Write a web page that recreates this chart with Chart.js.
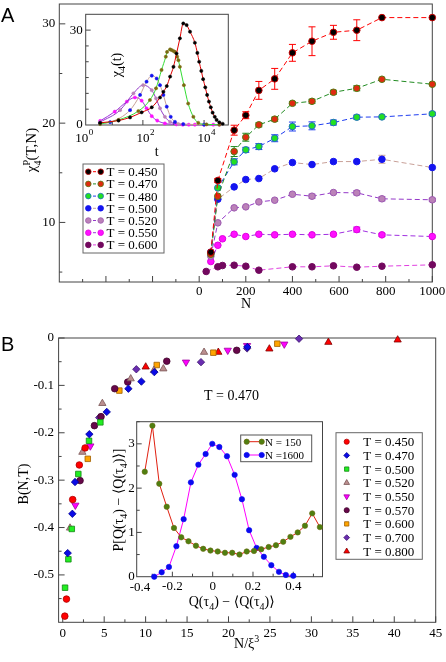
<!DOCTYPE html>
<html>
<head>
<meta charset="utf-8">
<script src="https://cdn.jsdelivr.net/npm/chart.js@4.4.0/dist/chart.umd.min.js"></script>
<style>
  body { margin: 0; background: #fff; }
  #wrap { position: relative; width: 446px; height: 662px; }
  #wrap canvas { position: absolute; left: 0; top: 0; }
</style>
</head>
<body>
<div id="wrap">
  <canvas id="mainA" width="446" height="662"></canvas>
  <canvas id="insetA" width="446" height="662"></canvas>
  <canvas id="mainB" width="446" height="662"></canvas>
  <canvas id="insetB" width="446" height="662"></canvas>
</div>
<script>
const SERIF = "'Liberation Serif', 'DejaVu Serif', serif";
const SANS = "'Liberation Sans', 'DejaVu Sans', sans-serif";

// ---- panel A : chi4^P(T,N) vs N ----
const A_TEMPS = ["0.450", "0.470", "0.480", "0.500", "0.520", "0.550", "0.600"];
const A_N = [30, 50, 80, 100, 150, 200, 256, 324, 400, 484, 576, 676, 784, 1000];
const A_T450 = [null, 7.0, 14.22, null, 19.29, 20.8, 23.3, 24.46, 27.08, 28.25, 29.15, 29.36, 30.63, 30.63];
const A_T470 = [null, 6.8, 12.64, null, 17.14, 18.58, 19.83, 20.4, 22.0, 22.2, 23.11, 23.51, 24.42, 23.92];
const A_T480 = [null, 6.9, 13.48, null, 16.1, 17.31, 17.64, 18.48, 19.66, 19.73, 20.06, 20.6, 20.63, 20.94];
const A_T500 = [null, 7.0, 12.34, null, 13.58, 14.32, 14.42, 15.4, 16.03, 15.83, 16.13, 16.13, 16.36, 15.53];
const A_T520 = [null, 6.6, 9.96, null, 11.47, 11.57, 12.07, 12.24, 12.84, 12.64, 13.01, 12.98, 12.38, 12.28];
const A_T550 = [null, 6.06, 7.7, 8.35, 8.81, 8.58, 8.81, 8.75, 8.81, 8.75, 8.81, 9.28, 8.75, 8.58];
const A_T600 = [5.06, null, 5.53, 5.66, 5.69, 5.59, 5.19, null, 5.53, 5.53, 5.63, 5.49, 5.59, 5.73];
const A_E450 = [0, 0, 0.2, 0, 0.5, 0.35, 0.9, 1.05, 0.85, 1.45, 0.7, 1.05, 0, 0];
const A_E470 = [0, 0, 0, 0, 0.5, 0.4, 0.2, 0.2, 0.15, 0.2, 0.2, 0.25, 0, 0];
const A_E480 = [0, 0, 0, 0, 0.3, 0.25, 0.3, 0.35, 0.45, 0.4, 0.25, 0.2, 0, 0.15];
const A_E500 = [0, 0, 0, 0, 0, 0, 0, 0, 0, 0, 0, 0, 0.4, 0];
const A_E520 = [0, 0, 0, 0, 0, 0, 0, 0, 0, 0.2, 0, 0.2, 0.2, 0.15];
const A_E550 = [0, 0, 0, 0, 0, 0, 0, 0, 0, 0, 0, 0.25, 0.15, 0];
const A_E600 = [0, 0, 0, 0, 0, 0, 0, 0, 0, 0, 0, 0, 0, 0];
const A_SERIES = [A_T450, A_T470, A_T480, A_T500, A_T520, A_T550, A_T600];
const A_ERRS = [A_E450, A_E470, A_E480, A_E500, A_E520, A_E550, A_E600];
const A_FILL = ["#000000", "#e02a10", "#22e022", "#1414f0", "#bb82b8", "#ff10ff", "#72085e"];
const A_EDGE = ["#c80000", "#557a10", "#1f6fc0", "#1414f0", "#9c58b0", "#e000e0", "#72085e"];
const A_LINE = ["#ff0000", "#228b22", "#1e3cf0", "#c8a098", "#9438c8", "#a030e0", "#e040e0"];

// inset A : chi4(t) vs t
const IA_T450_t = [4, 16, 38, 91, 195, 363, 468, 603, 776, 1000, 1260, 1620, 2090, 2690, 3470, 5010, 6030, 6920, 8130, 9330, 10960, 12590, 14450, 16600, 19050, 22390, 25700, 31600, 40700];
const IA_T450_c = [0.7, 1.4, 2.4, 4.0, 5.6, 8.7, 10.5, 12.3, 15.3, 18.4, 22.6, 27.4, 32.1, 31.6, 29.5, 26.0, 22.8, 20.0, 17.1, 14.5, 11.9, 9.5, 7.4, 5.6, 3.9, 2.6, 1.6, 0.85, 0.4];
const IA_T470_t = [4, 16, 71, 170, 269, 407, 562, 617, 776, 871, 1000, 1120, 1320, 1450, 1620, 2190, 3020, 4470, 6460, 12000, 31600];
const IA_T470_c = [0.3, 1.6, 4.4, 7.9, 11.6, 17.4, 21.6, 23.1, 23.9, 23.7, 23.4, 23.1, 21.6, 20.5, 18.4, 12.6, 6.8, 2.6, 0.7, 0.2, 0.1];
const IA_T500_t = [4, 8.5, 38, 81, 132, 195, 282, 363, 468, 603, 813, 1120, 2090, 10000];
const IA_T500_c = [0.5, 0.9, 4.7, 9.5, 13.7, 15.6, 14.7, 12.6, 9.5, 5.8, 2.6, 1.0, 0.3, 0.1];
const IA_T520_t = [4, 18, 49, 102, 195, 269, 363, 525, 776, 1450];
const IA_T520_c = [0.9, 4.7, 10, 12.6, 11, 8.4, 5.3, 2.6, 1.0, 0.3];
const IA_T550_t = [4, 12, 30, 55, 91, 132, 195, 295, 525, 1260, 2000, 3160, 5000, 10000, 20000, 31600];
const IA_T550_c = [1.3, 4.2, 7.4, 8.7, 7.7, 5.3, 2.8, 1.4, 0.5, 0.2, 0.1, 0.1, 0.1, 0.1, 0.1, 0.1];
const IA_T = [IA_T450_t, IA_T470_t, IA_T500_t, IA_T520_t, IA_T550_t];
const IA_C = [IA_T450_c, IA_T470_c, IA_T500_c, IA_T520_c, IA_T550_c];
const IA_FILL = ["#000000", "#7a6a10", "#1414f0", "#bb82b8", "#ff10ff"];
const IA_LINE = ["#e00000", "#33dd33", "#c8a098", "#9438c8", "#a030e0"];

// ---- panel B : B(N,T) vs N/xi^3 ----
const B_TEMPS = ["0.450", "0.470", "0.500", "0.520", "0.550", "0.570", "0.600", "0.700", "0.800"];
const B_X450 = [0.25, 0.45, 1.2, 2.0, 2.7];
const B_Y450 = [-0.587, -0.551, -0.341, -0.268, -0.232];
const B_X470 = [0.6, 1.16, 1.48, 3.21, 5.31, 7.92, 9.49, 11.05, 22.27];
const B_Y470 = [-0.454, -0.371, -0.304, -0.203, -0.156, -0.107, -0.092, -0.072, -0.019];
const B_X500 = [0.28, 0.68, 1.09, 1.88, 3.17, 4.54];
const B_Y500 = [-0.527, -0.467, -0.403, -0.287, -0.217, -0.178];
const B_X520 = [0.88, 2.37, 4.78, 8.2, 11.01, 12.14, 17.05];
const B_Y520 = [-0.401, -0.241, -0.138, -0.086, -0.068, -0.065, -0.030];
const B_X550 = [1.52, 3.33, 14.87, 19.91, 22.24, 26.73];
const B_Y550 = [-0.353, -0.228, -0.051, -0.026, -0.016, -0.013];
const B_X570 = [2.09, 3.82, 4.62, 6.27, 7.84, 12.55, 20.99];
const B_Y570 = [-0.301, -0.185, -0.166, -0.107, -0.093, -0.049, -0.026];
const B_X600 = [3.02, 6.83, 11.34, 18.17, 25.89];
const B_Y600 = [-0.255, -0.111, -0.057, -0.031, -0.012];
const B_X700 = [4.4, 8.88, 16.68, 22.24, 28.51];
const B_Y700 = [-0.168, -0.066, -0.051, -0.022, -0.0015];
const B_X800 = [10.01, 18.77, 24.93, 32.05, 40.41];
const B_Y800 = [-0.061, -0.030, -0.023, -0.009, -0.004];
const B_XS = [B_X450, B_X470, B_X500, B_X520, B_X550, B_X570, B_X600, B_X700, B_X800];
const B_YS = [B_Y450, B_Y470, B_Y500, B_Y520, B_Y550, B_Y570, B_Y600, B_Y700, B_Y800];
const B_FILL = ["#ff0000", "#0a0ae6", "#22ee22", "#bc8f8f", "#ff00ff", "#67074a", "#ffa500", "#6a2db0", "#ff0000"];
const B_EDGE = ["#b00000", "#000090", "#118811", "#7a5555", "#a000a0", "#40042c", "#a06000", "#3e1470", "#800000"];
const B_SHAPE = ["circle", "rectRot", "rect", "triangle", "triangle", "circle", "rect", "rectRot", "triangle"];
const B_ROT = [0, 0, 0, 0, 180, 0, 0, 0, 0];
const B_RAD = [3.3, 3.7, 3.9, 4.2, 4.2, 3.3, 3.9, 3.7, 4.2];

// inset B : P[Q - <Q>]
const IB_N150_x = [-0.337, -0.299, -0.265, -0.228, -0.192, -0.156, -0.120, -0.083, -0.047, -0.011, 0.025, 0.061, 0.097, 0.133, 0.169, 0.205, 0.241, 0.278, 0.314, 0.350, 0.386, 0.422, 0.458, 0.494, 0.532];
const IB_N150_y = [2.37, 3.41, 2.10, 1.58, 1.10, 0.89, 0.80, 0.70, 0.63, 0.59, 0.57, 0.54, 0.54, 0.50, 0.57, 0.58, 0.62, 0.67, 0.71, 0.79, 0.90, 1.00, 1.15, 1.43, 1.12];
const IB_N1600_x = [-0.290, -0.253, -0.217, -0.180, -0.144, -0.108, -0.071, -0.035, -0.002, 0.033, 0.071, 0.109, 0.145, 0.181, 0.218, 0.254, 0.291, 0.329, 0.363, 0.400];
const IB_N1600_y = [0.0, 0.10, 0.22, 0.69, 1.30, 2.13, 2.53, 2.77, 3.00, 2.93, 2.72, 2.30, 1.75, 1.05, 0.65, 0.45, 0.26, 0.11, 0.04, 0.02];

// ---------- helpers ----------
function rich(ctx, parts, x, y, size, align) {
  // parts: [text, mode]  mode 0 normal, 1 subscript, 2 superscript, 3 superscript without advance
  const widths = parts.map(([t, m]) => {
    ctx.font = (m ? Math.round(size * 0.68) : size) + "px " + SERIF;
    return ctx.measureText(t).width;
  });
  let total = 0;
  parts.forEach(([t, m], i) => { if (m !== 3) total += widths[i]; });
  let cx = align === "center" ? x - total / 2 : x;
  ctx.textAlign = "left";
  ctx.textBaseline = "alphabetic";
  parts.forEach(([t, m], i) => {
    ctx.font = (m ? Math.round(size * 0.68) : size) + "px " + SERIF;
    const dy = m === 1 ? size * 0.3 : (m >= 2 ? -size * 0.42 : 0);
    ctx.fillText(t, cx, y + dy);
    if (m !== 3) cx += widths[i];
  });
}

function richV(ctx, parts, x, y, size) {
  ctx.save();
  ctx.translate(x, y);
  ctx.rotate(-Math.PI / 2);
  rich(ctx, parts, 0, 0, size, "center");
  ctx.restore();
}

function marker(ctx, shape, x, y, r, fill, edge, rot) {
  ctx.save();
  ctx.fillStyle = fill;
  ctx.strokeStyle = edge;
  ctx.lineWidth = 0.8;
  ctx.beginPath();
  if (shape === "circle") {
    ctx.arc(x, y, r, 0, Math.PI * 2);
  } else if (shape === "rect") {
    const s = r * Math.SQRT1_2;
    ctx.rect(x - s, y - s, 2 * s, 2 * s);
  } else if (shape === "rectRot") {
    ctx.moveTo(x - r, y); ctx.lineTo(x, y - r); ctx.lineTo(x + r, y); ctx.lineTo(x, y + r); ctx.closePath();
  } else {
    const h = rot ? -1 : 1;
    const w = r * 0.866;
    ctx.moveTo(x, y - h * r); ctx.lineTo(x + w, y + h * r * 0.5); ctx.lineTo(x - w, y + h * r * 0.5); ctx.closePath();
  }
  ctx.fill();
  ctx.stroke();
  ctx.restore();
}

function axis(type, min, max, tickVals, size, isX, pad, fmt) {
  return {
    type: type, min: min, max: max,
    afterBuildTicks: s => { s.ticks = tickVals.map(v => ({ value: v })); },
    afterFit: s => {
      if (isX) s.height = size; else s.width = size;
      s.paddingLeft = 0; s.paddingRight = 0; s.paddingTop = 0; s.paddingBottom = 0;
    },
    ticks: {
      display: fmt !== null,
      callback: fmt || (v => String(v)),
      font: { family: SERIF, size: 13 },
      color: "#000", padding: pad, maxRotation: 0, minRotation: 0, autoSkip: false
    },
    grid: { display: false, drawTicks: false },
    border: { display: false }
  };
}

// box + inward tick marks
const frame = {
  id: "frame",
  beforeDraw(chart, args, o) {
    if (!o.fill) return;
    const a = chart.chartArea, ctx = chart.ctx;
    ctx.save();
    ctx.fillStyle = "#fff";
    ctx.fillRect(a.left, a.top, a.right - a.left, a.bottom - a.top);
    ctx.restore();
  },
  beforeDatasetsDraw(chart, args, o) {
    const a = chart.chartArea, ctx = chart.ctx;
    const xs = chart.scales.x, ys = chart.scales.y;
    ctx.save();
    ctx.strokeStyle = "#444";
    ctx.lineWidth = 1;
    ctx.strokeRect(a.left, a.top, a.right - a.left, a.bottom - a.top);
    ctx.beginPath();
    const tick = (vals, len, horiz) => vals.forEach(v => {
      if (horiz) {
        const p = xs.getPixelForValue(v);
        if (p < a.left - 0.5 || p > a.right + 0.5) return;
        ctx.moveTo(p, a.bottom); ctx.lineTo(p, a.bottom - len);
      } else {
        const p = ys.getPixelForValue(v);
        if (p < a.top - 0.5 || p > a.bottom + 0.5) return;
        ctx.moveTo(a.left, p); ctx.lineTo(a.left + len, p);
      }
    });
    tick(o.xMajor, o.major, true);
    tick(o.xMinor, o.minor, true);
    tick(o.yMajor, o.major, false);
    tick(o.yMinor, o.minor, false);
    ctx.stroke();
    ctx.restore();
  }
};

const errorBars = {
  id: "errorBars",
  beforeDatasetsDraw(chart) {
    const ctx = chart.ctx, xs = chart.scales.x, ys = chart.scales.y;
    chart.data.datasets.forEach(ds => {
      ctx.save();
      ctx.strokeStyle = ds.borderColor;
      ctx.lineWidth = 1;
      ctx.beginPath();
      ds.data.forEach(p => {
        if (!p.e) return;
        const px = xs.getPixelForValue(p.x);
        const y1 = ys.getPixelForValue(p.y + p.e), y2 = ys.getPixelForValue(p.y - p.e);
        ctx.moveTo(px, y1); ctx.lineTo(px, y2);
        ctx.moveTo(px - 3.5, y1); ctx.lineTo(px + 3.5, y1);
        ctx.moveTo(px - 3.5, y2); ctx.lineTo(px + 3.5, y2);
      });
      ctx.stroke();
      ctx.restore();
    });
  }
};

const range = (a, b, s) => { const r = []; for (let v = a; v <= b + 1e-9; v += s) r.push(+v.toFixed(4)); return r; };

// ---------- panel A main ----------
const annotA = {
  id: "annotA",
  afterDraw(chart) {
    const ctx = chart.ctx;
    ctx.save();
    ctx.fillStyle = "#000";
    ctx.font = "20px " + SANS;
    ctx.textAlign = "left";
    ctx.textBaseline = "alphabetic";
    ctx.fillText("A", 1, 22);
    rich(ctx, [["N", 0]], 246, 308, 14, "center");
    richV(ctx, [["χ", 0], ["P", 3], ["4", 1], ["(T,N)", 0]], 36, 150, 15);
    // legend
    ctx.fillStyle = "#fff";
    ctx.fillRect(83, 164, 81, 89);
    ctx.strokeStyle = "#666";
    ctx.lineWidth = 1;
    ctx.strokeRect(83, 164, 81, 89);
    A_TEMPS.forEach((t, i) => {
      const yy = 171.7 + i * 12.2;
      ctx.save();
      ctx.strokeStyle = A_LINE[i];
      ctx.setLineDash([3, 2]);
      ctx.beginPath(); ctx.moveTo(88, yy); ctx.lineTo(101, yy); ctx.stroke();
      ctx.restore();
      marker(ctx, "circle", 88.3, yy, 2.8, A_FILL[i], A_EDGE[i]);
      marker(ctx, "circle", 100.7, yy, 2.8, A_FILL[i], A_EDGE[i]);
      ctx.fillStyle = "#000";
      ctx.font = "13px " + SERIF;
      ctx.fillText("T = " + t, 106.5, yy + 4.5);
    });
    ctx.restore();
  }
};

new Chart(document.getElementById("mainA"), {
  type: "line",
  data: {
    datasets: A_SERIES.map((arr, i) => ({
      label: "T = " + A_TEMPS[i],
      data: A_N.map((n, j) => ({ x: n, y: arr[j], e: A_ERRS[i][j] })).filter(p => p.y !== null),
      borderColor: A_LINE[i],
      borderWidth: 1,
      borderDash: [5, 3],
      pointRadius: 3.3,
      pointBackgroundColor: A_FILL[i],
      pointBorderColor: A_EDGE[i],
      pointBorderWidth: 1,
      tension: 0,
      clip: false
    }))
  },
  options: {
    responsive: false, animation: false, events: [],
    layout: { autoPadding: false, padding: { left: 0, top: 4, right: 446 - 432.3, bottom: 662 - 282 - 30 } },
    scales: {
      x: axis("linear", -600, 1000, [0, 200, 400, 600, 800, 1000], 30, true, 2),
      y: axis("linear", 4, 32, [10, 20, 30], 59.3, false, 4)
    },
    plugins: {
      legend: { display: false }, tooltip: { enabled: false },
      frame: { major: 6, minor: 3, xMajor: range(-400, 1000, 200), xMinor: range(-500, 900, 200), yMajor: [10, 20, 30], yMinor: [5, 15, 25] }
    }
  },
  plugins: [frame, errorBars, annotA]
});

// ---------- inset A ----------
const annotIA = {
  id: "annotIA",
  afterDraw(chart) {
    const ctx = chart.ctx, xs = chart.scales.x;
    ctx.save();
    ctx.fillStyle = "#000";
    [[1, "0"], [100, "2"], [10000, "4"]].forEach(([v, e]) => {
      const p = xs.getPixelForValue(v);
      ctx.font = "13px " + SERIF;
      ctx.textAlign = "center";
      ctx.fillText("10", p, 142);
      ctx.font = "9px " + SERIF;
      ctx.textAlign = "left";
      ctx.fillText(e, p + 7, 135);
    });
    rich(ctx, [["t", 0]], 156.7, 156, 14, "center");
    richV(ctx, [["χ", 0], ["4", 1], ["(t)", 0]], 121, 65, 14);
    ctx.restore();
  }
};

new Chart(document.getElementById("insetA"), {
  type: "line",
  data: {
    datasets: IA_T.map((tt, i) => ({
      data: tt.map((t, j) => ({ x: t, y: IA_C[i][j] })),
      borderColor: IA_LINE[i],
      borderWidth: 1,
      pointRadius: 1.6,
      pointBackgroundColor: IA_FILL[i],
      pointBorderColor: IA_FILL[i],
      pointBorderWidth: 0.5,
      cubicInterpolationMode: "monotone",
      clip: false
    }))
  },
  options: {
    responsive: false, animation: false, events: [],
    layout: { autoPadding: false, padding: { left: 0, top: 14.3, right: 446 - 228.3, bottom: 662 - 125 - 20 } },
    scales: {
      x: axis("logarithmic", 1.35, 62000, [100], 20, true, 2, null),
      y: axis("linear", 0, 35, [0, 30], 85.7, false, 3)
    },
    plugins: {
      legend: { display: false }, tooltip: { enabled: false },
      frame: { fill: true, major: 5, minor: 3, xMajor: [100, 10000], xMinor: [10, 1000], yMajor: [30], yMinor: [5, 10, 15, 20, 25] }
    }
  },
  plugins: [frame, annotIA]
});

// ---------- panel B main ----------
const annotB = {
  id: "annotB",
  afterDraw(chart) {
    const ctx = chart.ctx;
    ctx.save();
    ctx.fillStyle = "#000";
    ctx.font = "20px " + SANS;
    ctx.textAlign = "left";
    ctx.textBaseline = "alphabetic";
    ctx.fillText("B", 1, 351);
    rich(ctx, [["N/ξ", 0], ["3", 2]], 246.7, 647.5, 14, "center");
    richV(ctx, [["B(N,T)", 0]], 28, 484, 14);
    rich(ctx, [["T = 0.470", 0]], 231.5, 399.5, 14, "center");
    // legend
    ctx.fillStyle = "#fff";
    ctx.fillRect(336, 432.7, 86.3, 126.6);
    ctx.strokeStyle = "#666";
    ctx.lineWidth = 1;
    ctx.strokeRect(336, 432.7, 86.3, 126.6);
    B_TEMPS.forEach((t, i) => {
      const yy = 441.7 + i * 13.7;
      marker(ctx, B_SHAPE[i], 346.7, yy, B_RAD[i] * 0.78, B_FILL[i], B_EDGE[i], B_ROT[i]);
      ctx.fillStyle = "#000";
      ctx.font = "13px " + SERIF;
      ctx.textAlign = "left";
      ctx.fillText("T = " + t, 363.3, yy + 4.5);
    });
    ctx.restore();
  }
};

new Chart(document.getElementById("mainB"), {
  type: "scatter",
  data: {
    datasets: B_XS.map((xs, i) => ({
      label: "T = " + B_TEMPS[i],
      data: xs.map((x, j) => ({ x: x, y: B_YS[i][j] })),
      pointStyle: B_SHAPE[i],
      rotation: B_ROT[i],
      pointRadius: B_RAD[i],
      backgroundColor: B_FILL[i],
      borderColor: B_EDGE[i],
      borderWidth: 0.8,
      clip: false
    }))
  },
  options: {
    responsive: false, animation: false, events: [],
    layout: { autoPadding: false, padding: { left: 0, top: 338, right: 446 - 435.7, bottom: 662 - 622.3 - 24 } },
    scales: {
      x: axis("linear", -0.5, 45, range(0, 45, 5), 24, true, 3),
      y: axis("linear", -0.6, 0, [0, -0.1, -0.2, -0.3, -0.4, -0.5], 58.6, false, 4.5)
    },
    plugins: {
      legend: { display: false }, tooltip: { enabled: false },
      frame: { major: 6, minor: 3, xMajor: range(0, 45, 5), xMinor: range(2.5, 42.5, 5), yMajor: [0, -0.1, -0.2, -0.3, -0.4, -0.5], yMinor: [-0.05, -0.15, -0.25, -0.35, -0.45, -0.55] }
    }
  },
  plugins: [frame, annotB]
});

// ---------- inset B ----------
const annotIB = {
  id: "annotIB",
  afterDraw(chart) {
    const ctx = chart.ctx;
    ctx.save();
    ctx.fillStyle = "#000";
    ctx.font = "13px " + SERIF;
    ctx.textAlign = "center";
    ctx.textBaseline = "alphabetic";
    ctx.fillText("-0.4", 140, 590.5);
    rich(ctx, [["Q(τ", 0], ["4", 1], [") − ⟨Q(τ", 0], ["4", 1], [")⟩", 0]], 231.7, 606, 14, "center");
    richV(ctx, [["P[Q(τ", 0], ["4", 1], [") − ⟨Q(τ", 0], ["4", 1], [")⟩]", 0]], 122.5, 500, 14);
    // legend
    ctx.fillStyle = "#fff";
    ctx.fillRect(240.7, 435, 71, 26.7);
    ctx.strokeStyle = "#555";
    ctx.lineWidth = 1;
    ctx.strokeRect(240.7, 435, 71, 26.7);
    const rows = [["N = 150", "#e02010", "#4f7f10", "#6a6a10"], ["N =1600", "#ff00ff", "#0a0af0", "#0a0af0"]];
    rows.forEach(([lab, line, fill, edge], i) => {
      const yy = 441.7 + i * 13.3;
      ctx.strokeStyle = line;
      ctx.beginPath(); ctx.moveTo(246.7, yy); ctx.lineTo(261.7, yy); ctx.stroke();
      marker(ctx, "circle", 246.7, yy, 2.6, fill, edge);
      marker(ctx, "circle", 261.7, yy, 2.6, fill, edge);
      ctx.fillStyle = "#000";
      ctx.font = "11px " + SERIF;
      ctx.textAlign = "left";
      ctx.fillText(lab, 265, yy + 4);
    });
    ctx.restore();
  }
};

new Chart(document.getElementById("insetB"), {
  type: "line",
  data: {
    datasets: [
      {
        label: "N = 150",
        data: IB_N150_x.map((x, j) => ({ x: x, y: IB_N150_y[j] })),
        borderColor: "#e02010", borderWidth: 1,
        pointRadius: 2.7, pointBackgroundColor: "#4f7f10", pointBorderColor: "#6a6a10", pointBorderWidth: 0.6,
        tension: 0, clip: false
      },
      {
        label: "N =1600",
        data: IB_N1600_x.map((x, j) => ({ x: x, y: IB_N1600_y[j] })),
        borderColor: "#ff00ff", borderWidth: 1,
        pointRadius: 2.7, pointBackgroundColor: "#0a0af0", pointBorderColor: "#0a0af0", pointBorderWidth: 0.6,
        tension: 0, clip: false
      }
    ]
  },
  options: {
    responsive: false, animation: false, events: [],
    layout: { autoPadding: false, padding: { left: 0, top: 421.7, right: 446 - 322.5, bottom: 662 - 576.7 - 20 } },
    scales: {
      x: axis("linear", -0.377, 0.545, [-0.2, 0, 0.2, 0.4], 20, true, 2),
      y: axis("linear", 0, 3.5, [0, 1, 2, 3], 136.7, false, 2)
    },
    plugins: {
      legend: { display: false }, tooltip: { enabled: false },
      frame: { fill: true, major: 5, minor: 3, xMajor: [-0.2, 0, 0.2, 0.4], xMinor: [-0.3, -0.1, 0.1, 0.3, 0.5], yMajor: [1, 2, 3], yMinor: [0.5, 1.5, 2.5, 3.5] }
    }
  },
  plugins: [frame, annotIB]
});
</script>
</body>
</html>
